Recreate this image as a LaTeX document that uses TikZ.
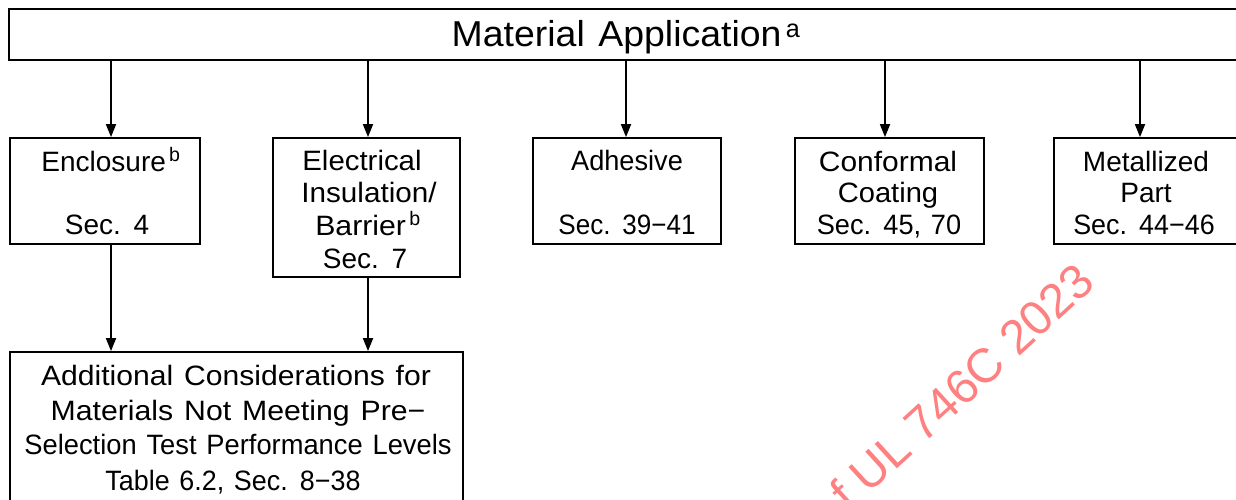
\documentclass[tikz,border=0pt]{standalone}
\usepackage{fontspec}
\setmainfont{Liberation Sans}[WordSpace=1.3]
\newfontfamily\wmfont{Liberation Sans}
\usetikzlibrary{arrows.meta}
\definecolor{wmred}{RGB}{255,128,128}
\newcommand{\mn}{\char"2212\relax}
\newcommand{\sx}[2]{\scalebox{#1}[1]{#2}}
\tikzset{
  box/.style={draw, line width=1.8pt, inner sep=0pt, outer sep=0pt, anchor=north west},
  lbl/.style={inner sep=0pt, anchor=base, font=\fontsize{28}{33}\selectfont},
  arr/.style={line width=1.8pt, -{Triangle[length=13pt,width=10pt]}, shorten >=0.9pt},
}
\begin{document}
\begin{tikzpicture}[x=1pt,y=-1pt]
\useasboundingbox (0,0) rectangle (1236,500);
\fill[white] (0,0) rectangle (1236,500);
\clip (0,0) rectangle (1236,500);
% boxes
\node[box, minimum width=1260pt, minimum height=51pt] (top) at (9,9) {};
\node[box, minimum width=190pt, minimum height=106pt] (enc) at (10,138) {};
\node[box, minimum width=187pt, minimum height=139pt] (ele) at (273,138) {};
\node[box, minimum width=188pt, minimum height=106pt] (adh) at (533,138) {};
\node[box, minimum width=189pt, minimum height=106pt] (con) at (795,138) {};
\node[box, minimum width=188pt, minimum height=106pt] (met) at (1054,138) {};
\node[box, minimum width=453pt, minimum height=170pt] (bot) at (10,352) {};
% texts
\node[lbl, font=\fontsize{36}{42}\selectfont] (topT) at (626,47) {\sx{1.04}{Material Application}\textsuperscript{\,a}};
\node[lbl] (encT) at (111,171) {Enclosure\textsuperscript{\,b}};
\node[lbl] (encS) at (107,234) {Sec. 4};
\node[lbl] (eleT1) at (362,170) {\sx{1.05}{Electrical}};
\node[lbl] (eleT2) at (369,202) {\sx{1.06}{Insulation/}};
\node[lbl] (eleT3) at (368,235) {\sx{1.08}{Barrier}\textsuperscript{\,b}};
\node[lbl] (eleS) at (365,268) {Sec. 7};
\node[lbl] (adhT) at (627,170) {\sx{0.97}{Adhesive}};
\node[lbl] (adhS) at (627,234) {\sx{0.93}{Sec. 39\mn41}};
\node[lbl] (conT1) at (888,171) {\sx{1.07}{Conformal}};
\node[lbl] (conT2) at (888,202) {\sx{1.04}{Coating}};
\node[lbl] (conS) at (889,234) {\sx{0.97}{Sec. 45, 70}};
\node[lbl] (metT1) at (1146,171) {Metallized};
\node[lbl] (metT2) at (1146,202) {Part};
\node[lbl] (metS) at (1144,234) {\sx{0.96}{Sec. 44\mn46}};
\node[lbl] (botT1) at (236,385) {\sx{1.075}{Additional Considerations for}};
\node[lbl] (botT2) at (238,420) {\sx{1.08}{Materials Not Meeting Pre\mn}};
\node[lbl] (botT3) at (238,454) {\sx{0.975}{Selection Test Performance Levels}};
\node[lbl] (botS) at (233,490) {\sx{0.96}{Table 6.2, Sec. 8\mn38}};
% connectors
\draw[arr] ([xshift=6pt]enc.north |- top.south) -- ([xshift=6pt]enc.north);
\draw[arr] ([xshift=1.5pt]ele.north |- top.south) -- ([xshift=1.5pt]ele.north);
\draw[arr] ([xshift=-1pt]adh.north |- top.south) -- ([xshift=-1pt]adh.north);
\draw[arr] ([xshift=-4.5pt]con.north |- top.south) -- ([xshift=-4.5pt]con.north);
\draw[arr] ([xshift=-8pt]met.north |- top.south) -- ([xshift=-8pt]met.north);
\draw[arr] ([xshift=6pt]enc.south) -- ([xshift=6pt]enc.south |- bot.north);
\draw[arr] ([xshift=1.5pt]ele.south) -- ([xshift=1.5pt]ele.south |- bot.north);
% watermark
\node[inner sep=0pt, anchor=base west, rotate=42.5, text=wmred, font=\wmfont\fontsize{48}{57}\selectfont] (wm) at (849,513) {f UL 746C 2023};
\end{tikzpicture}
\end{document}
